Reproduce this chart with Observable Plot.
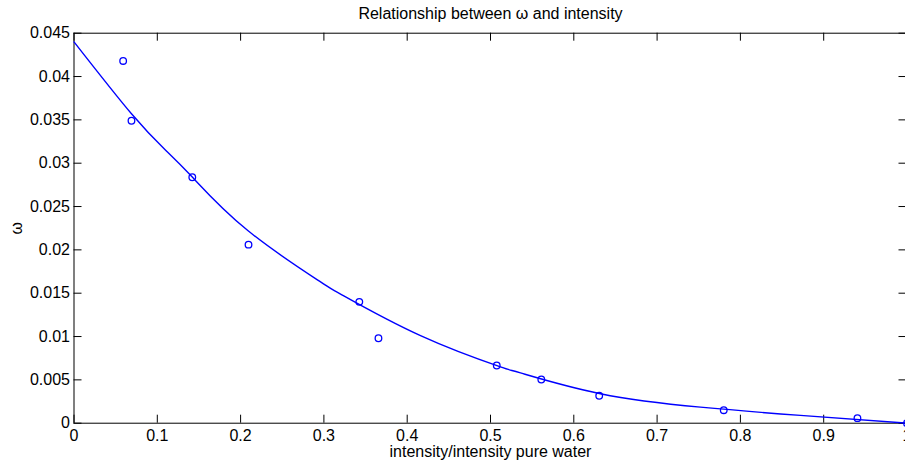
<!DOCTYPE html>
<html><head><meta charset="utf-8">
<script src="https://cdn.jsdelivr.net/npm/d3@7"></script>
<script src="https://cdn.jsdelivr.net/npm/@observablehq/plot@0.6"></script>
<style>html,body{margin:0;padding:0;background:#fff}svg{display:block}</style>
</head><body><div id="chart"></div>
<script>
const titleText = "Relationship between ω and intensity";
const xLabelText = "intensity/intensity pure water";
const yLabelText = "ω";

// measured points
const pointX = [0.059, 0.069, 0.142, 0.2095, 0.3425, 0.3655, 0.5075, 0.561, 0.6305, 0.780, 0.9405, 1.0];
const pointY = [0.0418, 0.0349, 0.02838, 0.0206, 0.0140, 0.0098, 0.00666, 0.00504, 0.00316, 0.0015, 0.00058, 0.0];

// fitted curve
const curveX = [0, 0.069, 0.11, 0.142, 0.209, 0.296, 0.32, 0.416, 0.512, 0.536, 0.632, 0.752, 0.872, 1.0];
const curveY = [0.0440, 0.0357, 0.0315, 0.0284, 0.0222, 0.0163, 0.0149, 0.0101, 0.0065, 0.0058, 0.0034, 0.00185, 0.0009, 0];

const xTicks = [0, 0.1, 0.2, 0.3, 0.4, 0.5, 0.6, 0.7, 0.8, 0.9, 1];
const xTickLabels = ["0", "0.1", "0.2", "0.3", "0.4", "0.5", "0.6", "0.7", "0.8", "0.9", "1"];
const yTicks = [0, 0.005, 0.01, 0.015, 0.02, 0.025, 0.03, 0.035, 0.04, 0.045];
const yTickLabels = ["0", "0.005", "0.01", "0.015", "0.02", "0.025", "0.03", "0.035", "0.04", "0.045"];

const points = pointX.map((x, i) => ({x, y: pointY[i]}));
const curve = curveX.map((x, i) => ({x, y: curveY[i]}));
const xTickData = xTicks.map((v, i) => ({v, label: xTickLabels[i]}));
const yTickData = yTicks.map((v, i) => ({v, label: yTickLabels[i]}));

const W = 905, H = 463;
const xDomain = [0, 1], yDomain = [0, 0.045];
const xRange = [73.5, 906.5], yRange = [422.7, 32.7];
const tickPx = 8;
const tx = tickPx * (xDomain[1] - xDomain[0]) / (xRange[1] - xRange[0]);
const ty = tickPx * (yDomain[1] - yDomain[0]) / (yRange[0] - yRange[1]);
const blue = "#0000ff";
const font = "Liberation Sans, Arial, Helvetica, sans-serif";
const fs = 16;

const chart = Plot.plot({
  width: W, height: H,
  marginLeft: 73.5, marginRight: 0, marginTop: 32.7, marginBottom: 40.3,
  style: {fontFamily: font, background: "#fff", overflow: "visible"},
  x: {domain: xDomain, range: xRange, axis: null},
  y: {domain: yDomain, range: yRange, axis: null},
  marks: [
    Plot.ruleX(xTickData, {x: "v", y1: yDomain[0], y2: yDomain[0] + ty, stroke: "#000", strokeWidth: 1}),
    Plot.ruleX(xTickData, {x: "v", y1: yDomain[1], y2: yDomain[1] - ty, stroke: "#000", strokeWidth: 1}),
    Plot.ruleY(yTickData, {y: "v", x1: xDomain[0], x2: xDomain[0] + tx, stroke: "#000", strokeWidth: 1}),
    Plot.ruleY(yTickData, {y: "v", x1: xDomain[1], x2: xDomain[1] - tx, stroke: "#000", strokeWidth: 1}),
    Plot.frame({stroke: "#000", strokeWidth: 1}),
    Plot.line(curve, {x: "x", y: "y", stroke: blue, strokeWidth: 1.4, curve: "natural"}),
    Plot.dot(points, {x: "x", y: "y", r: 3.3, stroke: blue, fill: "none", strokeWidth: 1.3}),
    Plot.text(xTickData, {x: "v", y: yDomain[0], text: "label", dy: 12.5, lineAnchor: "middle", textAnchor: "middle", fontSize: fs, fill: "#000"}),
    Plot.text(yTickData, {x: xDomain[0], y: "v", text: "label", dx: -4, lineAnchor: "middle", textAnchor: "end", fontSize: fs, fill: "#000"}),
    Plot.text([xLabelText], {x: 0.5, y: yDomain[0], text: d => d, dy: 29, lineAnchor: "middle", fontSize: fs, fill: "#000"}),
    Plot.text([yLabelText], {x: xDomain[0], y: 0.0225, text: d => d, dx: -57, rotate: -90, lineAnchor: "middle", fontSize: fs, fill: "#000"}),
    Plot.text([titleText], {x: 0.5, y: yDomain[1], text: d => d, dy: -19, lineAnchor: "middle", fontSize: fs, fill: "#000"})
  ]
});
document.getElementById("chart").appendChild(chart);
</script>
</body></html>
